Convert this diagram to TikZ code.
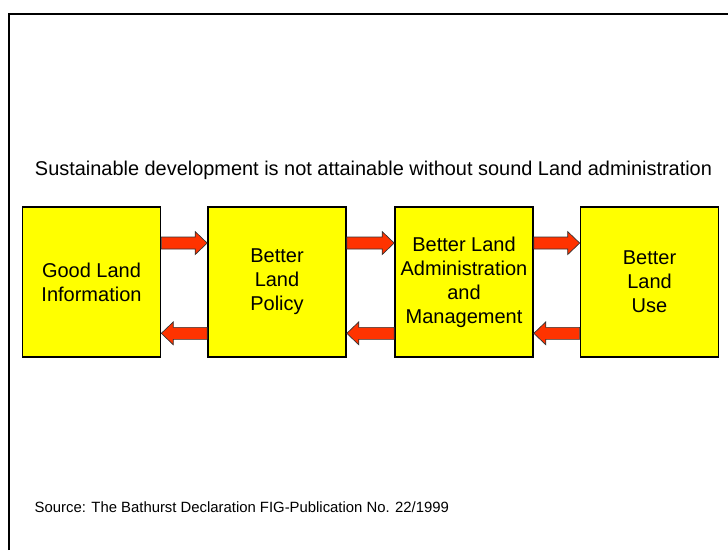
\documentclass[tikz,border=0pt]{standalone}
\usepackage{fontspec}
\setmainfont{Liberation Sans}
\usetikzlibrary{calc}
\definecolor{boxyellow}{RGB}{255,255,0}
\definecolor{arrowred}{RGB}{255,51,0}
\tikzset{
    landbox/.style={draw=black, line width=1.2pt, fill=boxyellow, minimum width=103.5pt,
        minimum height=112.5pt, align=center, inner sep=0pt,
        font=\fontsize{15}{18}\selectfont},
    blockarrow/.style={draw=black!80, line width=0.5pt, fill=arrowred},
}
% block arrow from one box side to the other, dy = shift of the arrow axis
\newcommand{\landarrow}[3]{%
    \path let \p1=($(#1)+(0,#3)$), \p2=($(#2)+(0,#3)$), \n1={sign(\x2-\x1)} in
        [blockarrow] (\x1,\y1+4.5pt) -- (\x2-\n1*9pt,\y1+4.5pt) -- (\x2-\n1*9pt,\y1+8.6pt)
        -- (\x2,\y1) -- (\x2-\n1*9pt,\y1-8.6pt) -- (\x2-\n1*9pt,\y1-4.5pt)
        -- (\x1,\y1-4.5pt) -- cycle;}
\begin{document}
\begin{tikzpicture}[x=0.75pt, y=-0.75pt]
    \useasboundingbox (0,0) rectangle (728,550);
    % frame
    \draw[line width=1.5pt] (9,550) -- (9,14) -- (728,14);
    \node (title) at (373.5,170) {\fontsize{14.95}{17}\selectfont Sustainable development is not attainable without sound Land administration};
    \node[landbox] (info) at (91.5,282) {Good Land\\Information};
    \node[landbox] (policy) at (277,282) {Better\\Land\\Policy};
    \node[landbox] (admin) at (464,282) {Better Land\\Administration\\and\\Management};
    \node[landbox] (use) at (649.5,282) {Better\\Land\\Use};
    \landarrow{info.east}{policy.west}{29.2pt}
    \landarrow{policy.west}{info.east}{-38.5pt}
    \landarrow{policy.east}{admin.west}{29.2pt}
    \landarrow{admin.west}{policy.east}{-38.5pt}
    \landarrow{admin.east}{use.west}{29.2pt}
    \landarrow{use.west}{admin.east}{-38.5pt}
    \node[anchor=west] (source) at (30,507) {\fontsize{11.15}{13}\selectfont Source: The Bathurst Declaration FIG-Publication No. 22/1999};
\end{tikzpicture}
\end{document}
